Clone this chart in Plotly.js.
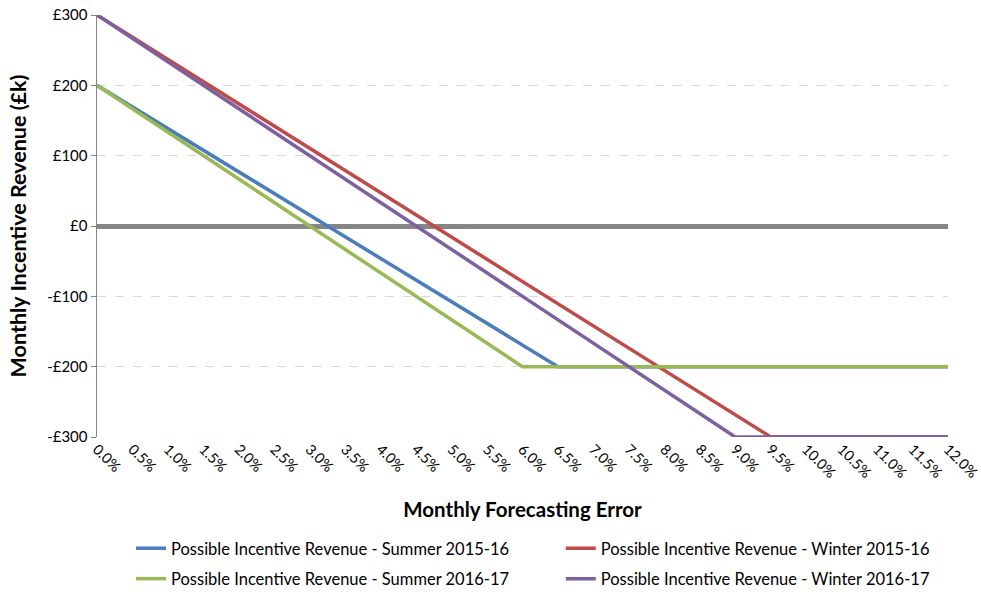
<!DOCTYPE html>
<html><head><meta charset="utf-8">
<script src="https://cdn.plot.ly/plotly-3.0.1.min.js"></script>
<style>html,body{margin:0;padding:0;background:#fff}#chart{width:981px;height:592px}</style>
</head><body><div id="chart"></div>
<script>
// Monthly forecasting error (fraction) and incentive revenue (£k)
const summer1516X = [0, 0.065, 0.12];
const summer1516Y = [200, -200, -200];
const winter1516X = [0, 0.095, 0.12];
const winter1516Y = [300, -300, -300];
const summer1617X = [0, 0.060, 0.12];
const summer1617Y = [200, -200, -200];
const winter1617X = [0, 0.090, 0.12];
const winter1617Y = [300, -300, -300];
const seriesNames = [
  'Possible Incentive Revenue - Summer 2015-16',
  'Possible Incentive Revenue - Winter 2015-16',
  'Possible Incentive Revenue - Summer 2016-17',
  'Possible Incentive Revenue - Winter 2016-17'
];
const xTickVals = [0, 0.005, 0.01, 0.015, 0.02, 0.025, 0.03, 0.035, 0.04, 0.045, 0.05, 0.055,
  0.06, 0.065, 0.07, 0.075, 0.08, 0.085, 0.09, 0.095, 0.10, 0.105, 0.11, 0.115, 0.12];
const yTickVals = [300, 200, 100, 0, -100, -200, -300];
const yTickText = ['£300', '£200', '£100', '£0', '-£100', '-£200', '-£300'];

const colors = ['#4A7EBB', '#BE4B48', '#98B954', '#7D60A0'];
const legendFor = ['legend', 'legend2', 'legend', 'legend2'];
const xs = [summer1516X, winter1516X, summer1617X, winter1617X];
const ys = [summer1516Y, winter1516Y, summer1617Y, winter1617Y];
const traces = xs.map((x, i) => ({
  x: x, y: ys[i], type: 'scatter', mode: 'lines', name: seriesNames[i],
  legend: legendFor[i], legendgroup: 'g' + i,
  line: {color: colors[i], width: 3.5}
}));

const font = 'Lato, "Open Sans", sans-serif';
const legendBase = {
  orientation: 'v', xref: 'paper', yref: 'paper', yanchor: 'top', y: -0.2227,
  xanchor: 'left', traceorder: 'grouped', tracegroupgap: 6,
  font: {family: font, size: 16.5, color: '#000'}, itemwidth: 30, bgcolor: 'rgba(0,0,0,0)'
};
const layout = {
  width: 981, height: 592,
  margin: {l: 97, r: 33, t: 15, b: 155, autoexpand: false},
  paper_bgcolor: '#fff', plot_bgcolor: '#fff',
  font: {family: font, size: 15, color: '#000'},
  showlegend: true,
  legend: Object.assign({}, legendBase, {x: 0.04}),
  legend2: Object.assign({}, legendBase, {x: 0.545}),
  xaxis: {
    range: [0, 0.12], tickvals: xTickVals,
    tickformat: '.1%', tickangle: 45, showgrid: false, showline: false,
    zeroline: false, ticks: '', tickfont: {family: font, size: 14.5},
    automargin: false, ticklabeloverflow: 'allow',
    title: {text: 'Monthly Forecasting Error', font: {family: font, size: 20.5, weight: 'bold'}, standoff: 22},
    fixedrange: true
  },
  yaxis: {
    range: [-300, 300], tickvals: yTickVals, ticktext: yTickText,
    showgrid: true, gridcolor: '#D9D9D9', griddash: 'dash', gridwidth: 1,
    showline: true, linecolor: '#868686', linewidth: 1.5,
    ticks: 'outside', ticklen: 5, tickcolor: '#868686',
    zeroline: true, zerolinecolor: '#868686', zerolinewidth: 5,
    tickfont: {family: font, size: 15}, automargin: false,
    title: {text: 'Monthly Incentive Revenue (£k)', font: {family: font, size: 21.5, weight: 'bold'}, standoff: 14},
    fixedrange: true
  }
};
Plotly.newPlot('chart', traces, layout, {displayModeBar: false, staticPlot: true});
</script></body></html>
